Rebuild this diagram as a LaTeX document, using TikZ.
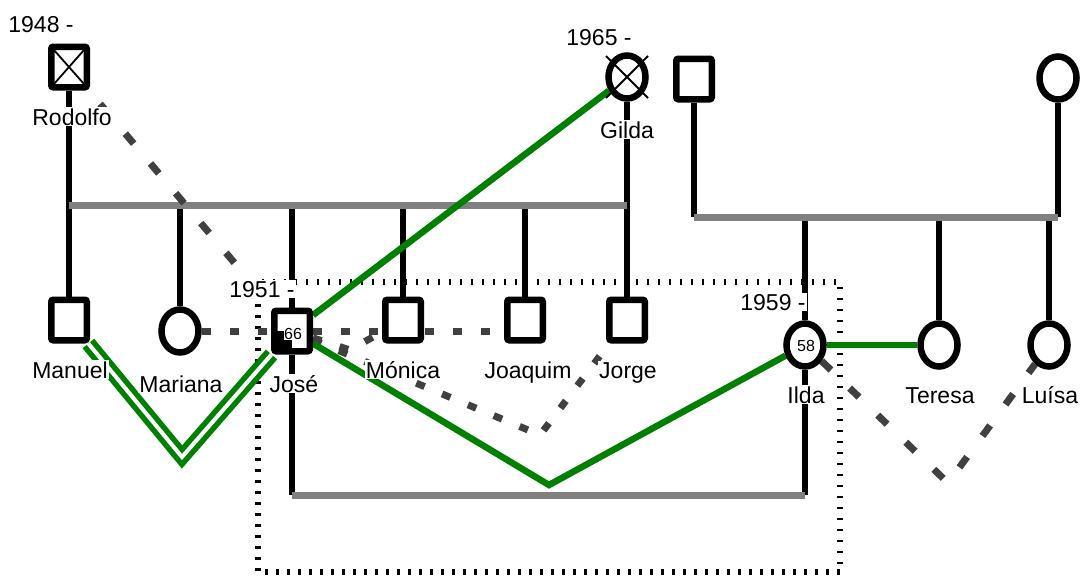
\documentclass[tikz,border=0pt]{standalone}
\usepackage{fontspec}
\setmainfont{Liberation Sans}
\usepackage{xcolor}
\definecolor{bond}{HTML}{008000}
\definecolor{distgray}{HTML}{404040}
\definecolor{linegray}{HTML}{808080}
\usepackage{tikz}
\usetikzlibrary{shapes.geometric,backgrounds}

\begin{document}
\begin{tikzpicture}[
    x=1pt, y=-1pt,
    male/.style={draw, line width=6.5pt, fill=white, rounded corners=2pt, minimum width=35.5pt, minimum height=40.5pt},
    female/.style={draw, ellipse, line width=6.5pt, fill=white, minimum width=37pt, minimum height=43pt},
    nametag/.style={fill=white, inner sep=1pt, anchor=base, font=\fontsize{23}{27}\selectfont},
    agetag/.style={fill=white, inner sep=0.5pt, font=\fontsize{16}{18}\selectfont},
    deceased/.style={line width=1.8pt},
    kin/.style={line width=6pt},
    couple/.style={line width=7pt, linegray},
    closeline/.style={line width=6.5pt, bond},
    closerline/.style={draw=bond, double=white, line width=5.5pt, double distance=4pt},
    distant/.style={line width=7pt, distgray, dash pattern=on 9pt off 19pt},
    steepdistant/.style={distant, dash pattern=on 13pt off 26pt},
    household/.style={line width=6pt, dash pattern=on 2.5pt off 8.5pt}
]
  \useasboundingbox (0,0) rectangle (1084,576);

  % Grandparents
  \node[male] (rodolfo) at (69,67) {};
  \node[female] (gilda) at (627,77) {};
  \node[male] (ifather) at (694,79) {};
  \node[female] (imother) at (1058,78) {};

  % Children
  \node[male] (manuel) at (69,320) {};
  \node[female] (mariana) at (180,331) {};
  \node[male] (jose) at (292,331) {};
  \node[male] (monica) at (403,320) {};
  \node[male] (joaquim) at (525,320) {};
  \node[male] (jorge) at (627,320) {};
  \node[female] (ilda) at (805,345) {};
  \node[female] (teresa) at (939,345) {};
  \node[female] (luisa) at (1049,345) {};

  % Deceased
  \draw[deceased] ([shift={(-15,-17)}]rodolfo.center) -- ([shift={(15,17)}]rodolfo.center);
  \draw[deceased] ([shift={(15,-17)}]rodolfo.center) -- ([shift={(-15,17)}]rodolfo.center);
  \draw[deceased] ([shift={(-21,-21)}]gilda.center) -- ([shift={(21,21)}]gilda.center);
  \draw[deceased] ([shift={(21,-21)}]gilda.center) -- ([shift={(-21,21)}]gilda.center);

  % Index person and ages
  \fill (jose.center) rectangle ([shift={(-15,18)}]jose.center);
  \node[agetag] (joseAge) at (293,334) {66};
  \node[agetag] (ildaAge) at (806,346) {58};

  % Names and years
  \node[nametag] (lRodolfo) at (72,125) {Rodolfo};
  \node[nametag] (lGilda) at (627,138) {Gilda};
  \node[nametag] (lManuel) at (70,378) {Manuel};
  \node[nametag] (lMariana) at (181,392) {Mariana};
  \node[nametag] (lJose) at (294,392) {José};
  \node[nametag] (lMonica) at (403,378) {Mónica};
  \node[nametag] (lJoaquim) at (528,378) {Joaquim};
  \node[nametag] (lJorge) at (628,378) {Jorge};
  \node[nametag] (lIlda) at (806,403) {Ilda};
  \node[nametag] (lTeresa) at (940,403) {Teresa};
  \node[nametag] (lLuisa) at (1050,403) {Luísa};
  \node[nametag] (yRodolfo) at (41,32) {1948 -};
  \node[nametag] (yGilda) at (599,45) {1965 -};
  \node[nametag] (yJose) at (262,297) {1951 -};
  \node[nametag] (yIlda) at (773,310) {1959 -};

  \begin{scope}[on background layer]
    % Household
    \draw[household] (258,282) rectangle (840,572);

    % Family lines
    \coordinate (rg) at (0,205);
    \coordinate (pm) at (0,217);
    \coordinate (ji) at (0,495);
    \foreach \p in {rodolfo,gilda,manuel,mariana,jose,monica,joaquim,jorge}
      \draw[kin] (\p) -- (\p |- rg);
    \foreach \p in {ifather,imother,ilda,teresa,luisa}
      \draw[kin] (\p) -- (\p |- pm);
    \foreach \p in {jose,ilda}
      \draw[kin] (\p) -- (\p |- ji);
    \draw[couple] (rodolfo |- rg) -- (gilda |- rg);
    \draw[couple] (ifather |- pm) -- (imother |- pm);
    \draw[couple] (jose |- ji) -- (ilda |- ji);

    % Distant relations
    \coordinate (jmDip) at (350,350);
    \coordinate (jjDip) at (540,435);
    \coordinate (ilDip) at (948,483);
    \draw[steepdistant, dash phase=21.5pt] (rodolfo) -- (jose);
    \draw[distant] (mariana) -- (jose);
    \draw[distant] (jose) -- (jose -| joaquim);
    \draw[distant] (jose) -- (jmDip) -- (monica);
    \draw[distant] (jose) -- (jjDip) -- (jorge);
    \draw[steepdistant] (ilda) -- (ilDip) -- (luisa);

    % Close relations
    \coordinate (mjDip) at (182,457);
    \coordinate (jiDip) at (549,485);
    \draw[closerline] (manuel) -- (mjDip) -- (jose);
    \draw[closeline] (gilda) -- (jose);
    \draw[closeline] (jose) -- (jiDip) -- (ilda);
    \draw[closeline] (ilda) -- (teresa);
  \end{scope}
\end{tikzpicture}
\end{document}
